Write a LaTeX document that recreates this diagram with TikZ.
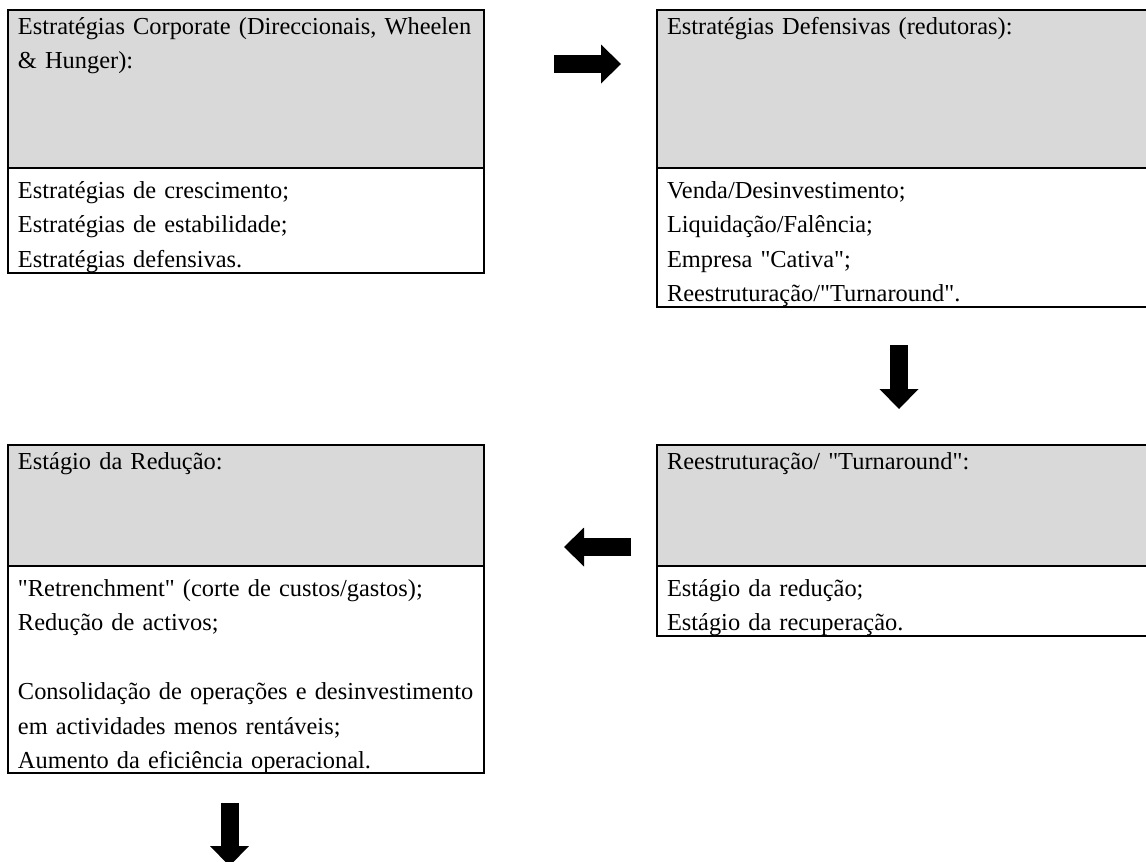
\documentclass[tikz,border=0pt]{standalone}
\usepackage{fontspec}
\setmainfont{Liberation Serif}
\usetikzlibrary{arrows.meta}
\definecolor{headgray}{HTML}{D9D9D9}
% straight double quote, loaded without the TeX ligature mapping
\font\qtfont="Liberation Serif" at 12.2pt
\newcommand{\dq}{{\qtfont\char34}}
\tikzset{
  every node/.style={font=\fontsize{12.2pt}{17.25pt}\selectfont},
  box/.style={draw, line width=1pt, outer sep=0pt, inner xsep=5pt, inner ysep=0pt,
    anchor=north west, align=left},
  headbox/.style={box, fill=headgray, text height=12pt},
  bodybox/.style={box, fill=white, text height=15pt},
  fatarrow/.style={line width=9pt, -{Triangle[width=19.5pt,length=10pt,line width=0pt]}}
}
\begin{document}
\begin{tikzpicture}[x=0.5pt,y=-0.5pt]
\useasboundingbox (0,0) rectangle (1146,862);
\fill[white] (0,0) rectangle (1146,862);
% upper row
\node[headbox, text width=228pt, text depth=67pt] (corpHead) at (8,10)
  {\mbox{Estratégias Corporate (Direccionais, Wheelen}\\ \& Hunger):};
\node[bodybox, text width=228pt, text depth=37.5pt] (corpBody) at (corpHead.south west)
  {Estratégias de crescimento;\\ Estratégias de estabilidade;\\ Estratégias defensivas.};
\node[headbox, text width=245pt, text depth=67pt] (defHead) at (657,10)
  {Estratégias Defensivas (redutoras):};
\node[bodybox, text width=245pt, text depth=54.5pt] (defBody) at (defHead.south west)
  {Venda/Desinvestimento;\\ Liquidação/Falência;\\ Empresa \dq Cativa\dq;\\ Reestruturação/\dq Turnaround\dq.};
% lower row
\node[headbox, text width=228pt, text depth=48.5pt] (redHead) at (8,445)
  {Estágio da Redução:};
\node[bodybox, text width=228pt, text depth=88.5pt] (redBody) at (redHead.south west)
  {\mbox{\dq Retrenchment\dq{} (corte de custos/gastos);}\\ Redução de activos;\\[17.25pt]
   \mbox{Consolidação de operações e desinvestimento}\\ \mbox{em actividades menos rentáveis;}\\
   \mbox{Aumento da eficiência operacional.}};
\node[headbox, text width=245pt, text depth=48.5pt] (turnHead) at (657,445)
  {Reestruturação/ \dq Turnaround\dq:};
\node[bodybox, text width=245pt, text depth=20pt] (turnBody) at (turnHead.south west)
  {Estágio da redução;\\ Estágio da recuperação.};
% arrows
\coordinate (rightFrom) at (554,64);
\coordinate (rightTo) at (621,64);
\coordinate (downFrom) at (899,345);
\coordinate (downTo) at (899,409);
\coordinate (leftFrom) at (631,547);
\coordinate (leftTo) at (564,547);
\coordinate (endFrom) at (229.5,803);
\coordinate (endTo) at (229.5,866);
\draw[fatarrow] (rightFrom) -- (rightTo);
\draw[fatarrow] (downFrom) -- (downTo);
\draw[fatarrow] (leftFrom) -- (leftTo);
\draw[fatarrow] (endFrom) -- (endTo);
\end{tikzpicture}
\end{document}
